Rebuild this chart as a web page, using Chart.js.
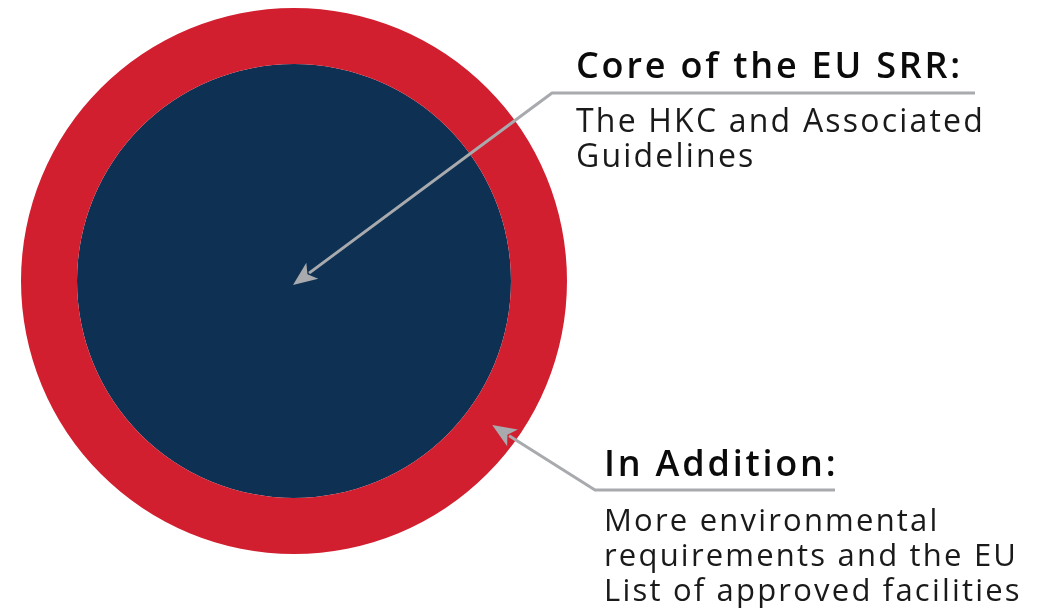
<!DOCTYPE html>
<html>
<head>
<meta charset="utf-8">
<script src="https://cdn.jsdelivr.net/npm/chart.js@4.4.1/dist/chart.umd.min.js"></script>
<style>
  html, body { margin:0; padding:0; background:#fff; width:1040px; height:611px; overflow:hidden; }
  #wrap { position:relative; width:1040px; height:611px; }
  #c { position:absolute; left:0; top:0; }
  .note { position:absolute; font-family:"Open Sans", sans-serif; color:#111; white-space:nowrap; }
  .note h2 { margin:0; font-weight:600; font-size:36px; line-height:40px; color:#0b0b0b; letter-spacing:2.8px; }
  .note p { margin:0; font-weight:400; line-height:35px; color:#1a1a1a; letter-spacing:2.2px; }
</style>
</head>
<body>
<div id="wrap">
  <canvas id="c" width="1040" height="611"></canvas>
  <div class="note" id="n0" style="left:576px; top:45px;"><h2 id="t0"></h2><p id="d0" style="margin-top:17px; font-size:32px;"></p></div>
  <div class="note" id="n1" style="left:604px; top:443px;"><h2 id="t1"></h2><p id="d1" style="margin-top:19px; font-size:31px;"></p></div>
</div>
<script>
// ---- data ----
const layers = ["In Addition", "Core of the EU SRR"];      // outer ring, inner core
const layerValues = [1, 1];
const layerWeights = [56, 217];                              // ring thickness ratio
const layerColors = ["#D11F2F", "#0E3052"];
const titles = ["Core of the EU SRR:", "In Addition:"];
const descriptions = [
  ["The HKC and Associated", "Guidelines"],
  ["More environmental", "requirements and the EU", "List of approved facilities"]
];

document.getElementById('t0').textContent = titles[0];
document.getElementById('t1').textContent = titles[1];
document.getElementById('d0').innerHTML = descriptions[0].join('<br>');
document.getElementById('d1').innerHTML = descriptions[1].join('<br>');

const arrowColor = "#A8AAAD";
function drawArrow(ctx, pts) {
  ctx.save();
  ctx.strokeStyle = arrowColor; ctx.fillStyle = arrowColor;
  ctx.lineWidth = 3; ctx.lineJoin = 'round';
  const n = pts.length;
  const tip = pts[n-1], prev = pts[n-2];
  const ang = Math.atan2(tip[1]-prev[1], tip[0]-prev[0]);
  const L = 24, W = 10;
  const bx = tip[0] - Math.cos(ang)*L, by = tip[1] - Math.sin(ang)*L;
  ctx.beginPath();
  ctx.moveTo(pts[0][0], pts[0][1]);
  for (let i = 1; i < n-1; i++) ctx.lineTo(pts[i][0], pts[i][1]);
  ctx.lineTo(bx + Math.cos(ang)*4, by + Math.sin(ang)*4);
  ctx.stroke();
  ctx.beginPath();
  ctx.moveTo(tip[0], tip[1]);
  ctx.lineTo(bx - Math.sin(ang)*W, by + Math.cos(ang)*W);
  ctx.lineTo(bx + Math.cos(ang)*6, by + Math.sin(ang)*6);
  ctx.lineTo(bx + Math.sin(ang)*W, by - Math.cos(ang)*W);
  ctx.closePath();
  ctx.fill();
  ctx.restore();
}

const annotations = {
  id: 'annotations',
  afterDatasetsDraw(chart) {
    const ctx = chart.ctx;
    const outer = chart.getDatasetMeta(0).data[0];
    const inner = chart.getDatasetMeta(1).data[0];
    const cx = inner.x, cy = inner.y;
    // arrow 1: to the core centre
    drawArrow(ctx, [[975, 93], [552, 93], [cx - 1, cy + 4]]);
    // arrow 2: to the middle of the outer ring
    const rMid = (outer.innerRadius + outer.outerRadius) / 2;
    const a = 36 * Math.PI / 180;
    drawArrow(ctx, [[835, 490], [595, 490], [cx + rMid*Math.cos(a), cy + rMid*Math.sin(a)]]);
  }
};

new Chart(document.getElementById('c'), {
  type: 'pie',
  data: {
    labels: layers,
    datasets: [
      { label: layers[0], data: [layerValues[0]], backgroundColor: [layerColors[0]], borderWidth: 0, weight: layerWeights[0] },
      { label: layers[1], data: [layerValues[1]], backgroundColor: [layerColors[1]], borderWidth: 0, weight: layerWeights[1] }
    ]
  },
  options: {
    responsive: false,
    animation: false,
    layout: { padding: { left: 21, right: 473, top: 8, bottom: 57 } },
    plugins: { legend: { display: false }, tooltip: { enabled: false } }
  },
  plugins: [annotations]
});
</script>
</body>
</html>
